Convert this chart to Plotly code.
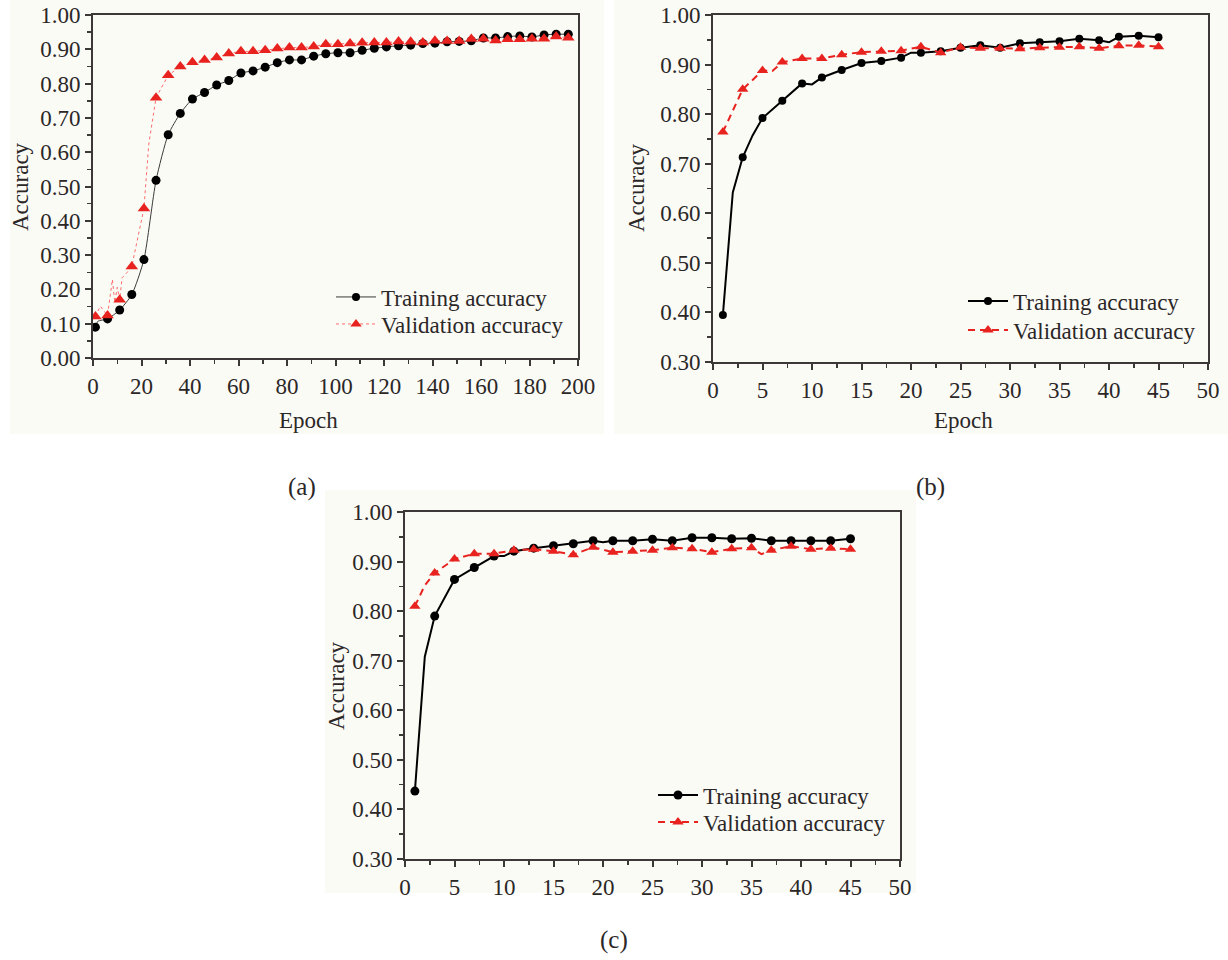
import plotly.graph_objects as go

# ---------------- data ----------------
# Panel (a): 200 epochs, markers every 5 epochs, extra line vertices between
a_train_epoch = [1, 2, 6, 11, 16, 21, 26, 31, 36, 41, 46, 51, 56, 61, 66, 71, 76, 81, 86, 91, 96,
                 101, 106, 111, 116, 121, 126, 131, 136, 141, 146, 151, 156, 161, 166, 171, 176,
                 181, 186, 191, 196]
a_train_acc = [0.090, 0.107, 0.114, 0.140, 0.185, 0.287, 0.518, 0.651, 0.713, 0.755, 0.774, 0.796,
               0.809, 0.831, 0.837, 0.848, 0.861, 0.869, 0.869, 0.880, 0.887, 0.890, 0.890, 0.897,
               0.903, 0.907, 0.910, 0.912, 0.917, 0.918, 0.922, 0.923, 0.925, 0.933, 0.933, 0.937,
               0.939, 0.936, 0.942, 0.944, 0.944]
a_val_epoch = [1, 3, 6, 8, 9, 10, 11, 12, 14, 16, 21, 23, 26, 28, 31, 36, 41, 46, 51, 56, 61, 66,
               71, 76, 81, 86, 91, 96, 101, 106, 111, 116, 121, 126, 131, 136, 141, 146, 151, 156,
               161, 166, 171, 176, 181, 186, 191, 196]
a_val_acc = [0.121, 0.151, 0.124, 0.229, 0.162, 0.206, 0.170, 0.234, 0.249, 0.267, 0.436, 0.624,
             0.759, 0.785, 0.824, 0.850, 0.862, 0.869, 0.876, 0.888, 0.894, 0.894, 0.897, 0.902,
             0.905, 0.905, 0.908, 0.915, 0.915, 0.917, 0.919, 0.920, 0.920, 0.923, 0.922, 0.920,
             0.925, 0.924, 0.924, 0.930, 0.931, 0.926, 0.929, 0.929, 0.931, 0.931, 0.937, 0.934]

# Panel (b): 45 epochs, markers on odd epochs
b_train_epoch = [1, 2, 3, 4, 5, 7, 9, 10, 11, 13, 15, 17, 19, 20, 21, 23, 25, 27, 29, 31, 33, 35,
                 37, 39, 40, 41, 43, 45]
b_train_acc = [0.395, 0.642, 0.713, 0.757, 0.792, 0.827, 0.862, 0.860, 0.874, 0.889, 0.903, 0.907,
               0.914, 0.924, 0.924, 0.927, 0.934, 0.939, 0.934, 0.943, 0.945, 0.947, 0.952, 0.949,
               0.945, 0.956, 0.958, 0.955]
b_val_epoch = [1, 3, 5, 6, 7, 9, 11, 13, 15, 17, 19, 21, 23, 25, 27, 29, 31, 33, 35, 37, 39, 41,
               43, 45]
b_val_acc = [0.764, 0.850, 0.888, 0.887, 0.905, 0.912, 0.912, 0.920, 0.925, 0.927, 0.928, 0.936,
             0.924, 0.935, 0.933, 0.933, 0.932, 0.934, 0.935, 0.936, 0.933, 0.938, 0.939, 0.936]

# Panel (c): 45 epochs, markers on odd epochs
c_train_epoch = [1, 2, 3, 5, 7, 9, 10, 11, 13, 15, 17, 19, 20, 21, 23, 25, 27, 29, 31, 33, 35, 37,
                 39, 41, 43, 45]
c_train_acc = [0.437, 0.708, 0.790, 0.864, 0.888, 0.911, 0.911, 0.921, 0.927, 0.932, 0.936, 0.942,
               0.939, 0.942, 0.942, 0.945, 0.942, 0.948, 0.948, 0.946, 0.947, 0.942, 0.942, 0.942,
               0.942, 0.946]
c_val_epoch = [1, 2, 3, 5, 7, 9, 11, 13, 15, 17, 19, 21, 23, 25, 27, 29, 31, 33, 35, 36, 37, 39,
               41, 43, 45]
c_val_acc = [0.810, 0.852, 0.877, 0.905, 0.916, 0.916, 0.923, 0.925, 0.921, 0.914, 0.929, 0.919,
             0.921, 0.923, 0.928, 0.926, 0.919, 0.926, 0.928, 0.915, 0.923, 0.931, 0.925, 0.927,
             0.925]

series_names = ["Training accuracy", "Validation accuracy"]
panel_labels = ["(a)", "(b)", "(c)"]

# ---------------- style ----------------
W, H = 1228, 960
FONT = "Liberation Serif"
TXT = "#2b2727"
AX = "#3d3838"
RED = "#e8231f"
PANEL_BG = "#fbfbf6"


def px(x):
    return x / W


def py(y):
    return 1 - y / H


fig = go.Figure()


def marker_sizes(epochs, step_mod, step_rem, size):
    return [size if (e % step_mod == step_rem) else 0 for e in epochs]


def mk(symbol, color, sizes):
    return dict(symbol=symbol, color=color, size=sizes, opacity=1,
                line=dict(width=0, color=color))


# panel (a)
fig.add_trace(go.Scatter(x=a_train_epoch, y=a_train_acc, mode="lines+markers",
                         line=dict(color="#3a3a3a", width=1, shape="spline", smoothing=0.6),
                         marker=mk("circle", "black", marker_sizes(a_train_epoch, 5, 1, 9)),
                         showlegend=False, xaxis="x", yaxis="y"))
fig.add_trace(go.Scatter(x=a_val_epoch, y=a_val_acc, mode="lines+markers",
                         line=dict(color="#ff6b6b", width=1, dash="dot"),
                         marker=mk("triangle-up", RED, marker_sizes(a_val_epoch, 5, 1, 11)),
                         showlegend=False, xaxis="x", yaxis="y"))
# panel (b)
fig.add_trace(go.Scatter(x=b_train_epoch, y=b_train_acc, mode="lines+markers",
                         line=dict(color="black", width=2),
                         marker=mk("circle", "black", marker_sizes(b_train_epoch, 2, 1, 8)),
                         showlegend=False, xaxis="x2", yaxis="y2"))
fig.add_trace(go.Scatter(x=b_val_epoch, y=b_val_acc, mode="lines+markers",
                         line=dict(color=RED, width=2, dash="7px,5px"),
                         marker=mk("triangle-up", RED, marker_sizes(b_val_epoch, 2, 1, 10)),
                         showlegend=False, xaxis="x2", yaxis="y2"))
# panel (c)
fig.add_trace(go.Scatter(x=c_train_epoch, y=c_train_acc, mode="lines+markers",
                         line=dict(color="black", width=2),
                         marker=mk("circle", "black", marker_sizes(c_train_epoch, 2, 1, 9)),
                         showlegend=False, xaxis="x3", yaxis="y3"))
fig.add_trace(go.Scatter(x=c_val_epoch, y=c_val_acc, mode="lines+markers",
                         line=dict(color=RED, width=2, dash="7px,5px"),
                         marker=mk("triangle-up", RED, marker_sizes(c_val_epoch, 2, 1, 10)),
                         showlegend=False, xaxis="x3", yaxis="y3"))

# legend entries: one legend per entry so each can be placed precisely
legfont = dict(family=FONT, size=23, color=TXT)
# (legend id, axes, series index, line style, symbol, colour, size, text-left x, centre y)
leg_entries = [
    ("legend", "x", "y", 0, dict(color="#3a3a3a", width=1), "circle", "black", 8, 381, 297),
    ("legend2", "x", "y", 1, dict(color="#ff6b6b", width=1, dash="dot"), "triangle-up", RED, 10, 381, 324),
    ("legend3", "x2", "y2", 0, dict(color="black", width=2), "circle", "black", 8, 1013, 301),
    ("legend4", "x2", "y2", 1, dict(color=RED, width=2, dash="7px,5px"), "triangle-up", RED, 10, 1013, 330),
    ("legend5", "x3", "y3", 0, dict(color="black", width=2), "circle", "black", 9, 703, 795),
    ("legend6", "x3", "y3", 1, dict(color=RED, width=2, dash="7px,5px"), "triangle-up", RED, 10, 703, 822),
]
legend_layout = {}
for lg, xa_, ya_, si, lstyle, sym, col, ms, tx, ty in leg_entries:
    fig.add_trace(go.Scatter(x=[None], y=[None], mode="lines+markers", name=series_names[si],
                             line=lstyle, marker=dict(symbol=sym, color=col, size=ms, opacity=1),
                             legend=lg, xaxis=xa_, yaxis=ya_))
    legend_layout[lg] = dict(x=px(tx - 50), y=py(ty), xanchor="left", yanchor="middle",
                             bgcolor="rgba(0,0,0,0)", font=legfont, itemwidth=40,
                             borderwidth=0)

tickfont = dict(family=FONT, size=23, color=TXT)


def xax(dom, rng, dtick, minor):
    return dict(domain=dom, range=rng, dtick=dtick, tick0=0, showline=True, linecolor=AX,
                linewidth=2, mirror=True, ticks="outside", ticklen=6, tickwidth=2, tickcolor=AX,
                minor=dict(dtick=minor, tick0=0, ticks="outside", ticklen=4, tickwidth=1.5,
                           tickcolor=AX),
                showgrid=False, zeroline=False, tickfont=tickfont, fixedrange=True,
                automargin=False, ticklabeloverflow="allow")


def yax(dom, rng, anchor):
    return dict(domain=dom, range=rng, dtick=0.1, tick0=0, tickformat=".2f", showline=True,
                linecolor=AX, linewidth=2, mirror=True, ticks="outside", ticklen=6, tickwidth=2,
                tickcolor=AX, anchor=anchor,
                minor=dict(dtick=0.05, tick0=0, ticks="outside", ticklen=4, tickwidth=1.5,
                           tickcolor=AX),
                showgrid=False, zeroline=False, tickfont=tickfont, fixedrange=True,
                automargin=False, ticklabeloverflow="allow")


boxes = {
    "a": (93, 578, 15, 358),
    "b": (713, 1208, 15, 362),
    "c": (405, 900, 512, 859),
}

xa = xax([px(boxes["a"][0]), px(boxes["a"][1])], [0, 200], 20, 10)
xa["anchor"] = "y"
xb = xax([px(boxes["b"][0]), px(boxes["b"][1])], [0, 50], 5, 2.5)
xb["anchor"] = "y2"
xc = xax([px(boxes["c"][0]), px(boxes["c"][1])], [0, 50], 5, 2.5)
xc["anchor"] = "y3"
ya = yax([py(boxes["a"][3]), py(boxes["a"][2])], [0, 1.0], "x")
yb = yax([py(boxes["b"][3]), py(boxes["b"][2])], [0.3, 1.0], "x2")
yc = yax([py(boxes["c"][3]), py(boxes["c"][2])], [0.3, 1.0], "x3")

# panel backgrounds
shapes = []
for (x0, x1, y0, y1) in [(10, 604, 0, 434), (614, 1228, 0, 434), (325, 916, 490, 893)]:
    shapes.append(dict(type="rect", xref="paper", yref="paper", x0=px(x0), x1=px(x1),
                       y0=py(y1), y1=py(y0), fillcolor=PANEL_BG, line=dict(width=0),
                       layer="below"))

labfont = dict(family=FONT, size=23, color=TXT)
plabfont = dict(family=FONT, size=25, color=TXT)
annotations = [
    dict(text="Accuracy", x=px(20), y=py(187), textangle=-90, font=labfont),
    dict(text="Epoch", x=px(308), y=py(421), font=labfont),
    dict(text="Accuracy", x=px(637), y=py(188), textangle=-90, font=labfont),
    dict(text="Epoch", x=px(963), y=py(421), font=labfont),
    dict(text="Accuracy", x=px(336), y=py(686), textangle=-90, font=labfont),
    dict(text=panel_labels[0], x=px(302), y=py(487), font=plabfont),
    dict(text=panel_labels[1], x=px(930), y=py(487), font=plabfont),
    dict(text=panel_labels[2], x=px(614), y=py(940), font=plabfont),
]
for a in annotations:
    a.update(xref="paper", yref="paper", showarrow=False, xanchor="center", yanchor="middle")

fig.update_layout(
    width=W, height=H, margin=dict(l=0, r=0, t=0, b=0, pad=0, autoexpand=False),
    paper_bgcolor="white", plot_bgcolor=PANEL_BG,
    xaxis=xa, yaxis=ya, xaxis2=xb, yaxis2=yb, xaxis3=xc, yaxis3=yc,
    shapes=shapes, annotations=annotations,
    font=dict(family=FONT, color=TXT),
    **legend_layout,
)

# remove the default 8px page margin so the figure fills the 1228x960 window exactly
fig.write_html("out.html", config={"displayModeBar": False, "staticPlot": True},
               post_script="document.body.style.margin='0';document.body.style.overflow='hidden';")
